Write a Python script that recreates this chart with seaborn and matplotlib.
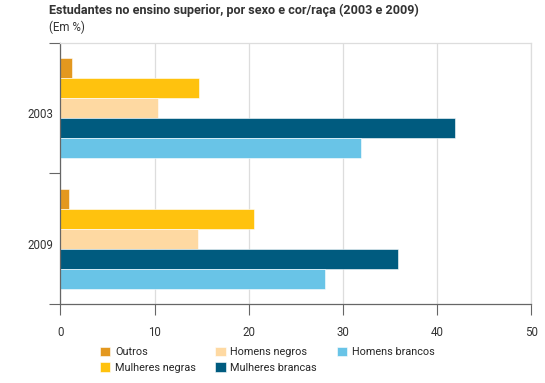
import matplotlib
matplotlib.use("Agg")
import matplotlib.pyplot as plt
import seaborn as sns
import pandas as pd

years = ["2003", "2009"]
series = ["Outros", "Mulheres negras", "Homens negros", "Mulheres brancas", "Homens brancos"]
values_2003 = [1.2, 14.7, 10.4, 41.9, 31.9]
values_2009 = [0.9, 20.5, 14.6, 35.8, 28.1]
colors = ["#E3981F", "#FFC20E", "#FED9A2", "#005B7F", "#69C4E7"]

rows = []
for s, v in zip(series, values_2003):
    rows.append({"ano": "2003", "grupo": s, "valor": v})
for s, v in zip(series, values_2009):
    rows.append({"ano": "2009", "grupo": s, "valor": v})
df = pd.DataFrame(rows)

sns.set_style("white")
plt.rcParams["font.family"] = ["Roboto", "DejaVu Sans"]

fig = plt.figure(figsize=(5.45, 3.83), dpi=100)
ax = fig.add_axes([0.111, 0.206, 0.864, 0.682])

sns.barplot(data=df, y="ano", x="valor", hue="grupo", order=years,
            hue_order=series, palette=colors, saturation=1, orient="h", width=0.77,
            edgecolor="white", linewidth=0.4, ax=ax, legend=True)

ax.set_xlim(0, 50)
ax.set_ylim(1.5, -0.5)
ax.set_xticks([0, 10, 20, 30, 40, 50])
ax.set_xticklabels(["0", "10", "20", "30", "40", "50"], fontsize=8.3, color="#333333")
ax.tick_params(axis="x", bottom=True, length=8, width=0.8, color="#666666", pad=8)
ax.set_yticks([-0.5, 0.5, 1.5])
ax.set_yticklabels([])
ax.tick_params(axis="y", which="major", left=True, length=8, width=0.8, color="#666666")
ax.set_yticks([0.04, 1.04], minor=True)
ax.set_yticklabels(years, minor=True, fontsize=8.3, color="#333333")
ax.tick_params(axis="y", which="minor", left=True, length=0, pad=5)
ax.grid(axis="x", color="#dddddd", linewidth=0.9)
ax.set_axisbelow(True)
ax.set_xlabel("")
ax.set_ylabel("")
for side in ["left", "bottom"]:
    ax.spines[side].set_color("#666666")
    ax.spines[side].set_linewidth(0.9)
for side in ["top", "right"]:
    ax.spines[side].set_color("#dddddd")
    ax.spines[side].set_linewidth(0.9)

handles, labels = ax.get_legend_handles_labels()
ax.legend_.remove()
fig.legend(handles, labels, ncol=3, loc="upper left", bbox_to_anchor=(0.183, 0.095),
           frameon=False, fontsize=7.8, handlelength=0.95, handleheight=0.95,
           handletextpad=0.45, columnspacing=1.8, labelspacing=0.5,
           borderaxespad=0, borderpad=0)

fig.text(0.09, 0.99, "Estudantes no ensino superior, por sexo e cor/raça (2003 e 2009)",
         fontsize=9.1, fontweight="bold", color="#333333", va="top", ha="left")
fig.text(0.09, 0.945, "(Em %)", fontsize=8.3, color="#333333", va="top", ha="left")

fig.savefig("out.png", dpi=100)
